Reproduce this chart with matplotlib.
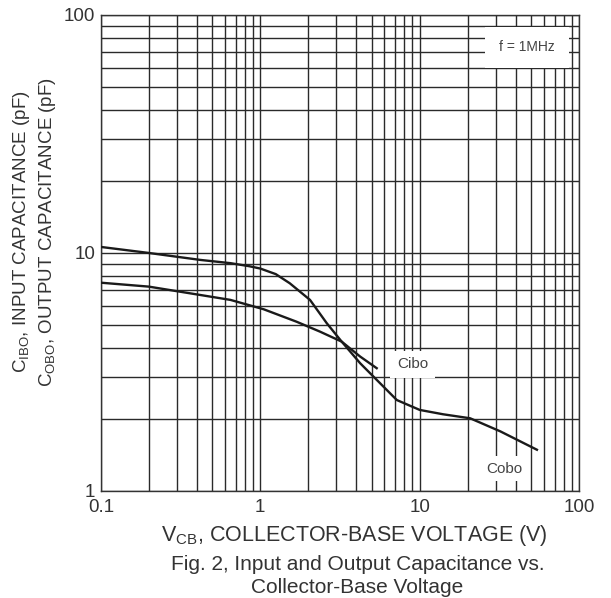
import matplotlib
matplotlib.use('Agg')
from matplotlib import pyplot as plt
from matplotlib.ticker import LogLocator, NullFormatter, FixedLocator, FixedFormatter

plt.rcParams['font.family'] = ['Liberation Sans', 'DejaVu Sans']

# values (V, pF)
cibo_v = [0.1, 0.2, 0.42, 0.65, 0.85, 1.0, 1.25, 1.53, 2.05, 2.61, 3.24, 4.23, 5.37]
cibo_c = [10.6, 10.0, 9.35, 9.06, 8.8, 8.6, 8.15, 7.46, 6.35, 5.07, 4.24, 3.67, 3.28]

cobo_v = [0.1, 0.2, 0.42, 0.65, 1.05, 1.69, 2.37, 3.24, 4.23, 5.37, 7.18, 10.0, 14.0, 20.7, 32.0, 54.3]
cobo_c = [7.5, 7.22, 6.66, 6.35, 5.8, 5.14, 4.67, 4.24, 3.44, 2.93, 2.41, 2.19, 2.1, 2.02, 1.78, 1.49]

x_ticks = [0.1, 1, 10, 100]
x_labels = ['0.1', '1', '10', '100']
y_ticks = [1, 10, 100]
y_labels = ['1', '10', '100']

fig = plt.figure(figsize=(6.11, 5.98), dpi=100)
ax = fig.add_axes([0.165, 0.179, 0.783, 0.796])

ax.set_xscale('log')
ax.set_yscale('log')
ax.set_xlim(0.1, 100)
ax.set_ylim(1, 100)

ax.xaxis.set_major_locator(FixedLocator(x_ticks))
ax.xaxis.set_major_formatter(FixedFormatter(x_labels))
ax.yaxis.set_major_locator(FixedLocator(y_ticks))
ax.yaxis.set_major_formatter(FixedFormatter(y_labels))
ax.xaxis.set_minor_locator(LogLocator(base=10, subs=range(2, 10)))
ax.yaxis.set_minor_locator(LogLocator(base=10, subs=range(2, 10)))
ax.xaxis.set_minor_formatter(NullFormatter())
ax.yaxis.set_minor_formatter(NullFormatter())

ax.grid(True, which='both', color='#2a2a2a', linewidth=1.0)
ax.tick_params(which='both', length=0, labelsize=13.5, colors='#333333')
ax.tick_params(axis='x', pad=6)
ax.tick_params(axis='y', pad=4)
for s in ax.spines.values():
    s.set_color('#333333')
    s.set_linewidth(1.0)

ax.plot(cibo_v, cibo_c, color='#1a1a1a', linewidth=1.7, zorder=3)
ax.plot(cobo_v, cobo_c, color='#1a1a1a', linewidth=1.7, zorder=3)

# labels with white boxes that break the grid
ax.text(9.0, 3.4, 'Cibo', fontsize=11, color='#444444', ha='center', va='center',
        bbox=dict(facecolor='white', edgecolor='none', pad=5), zorder=4)
ax.text(34, 1.24, 'Cobo', fontsize=11, color='#444444', ha='center', va='center',
        bbox=dict(facecolor='white', edgecolor='none', pad=4), zorder=4)
ax.text(47, 73, 'f = 1MHz', fontsize=10, color='#444444', ha='center', va='center',
        bbox=dict(facecolor='white', edgecolor='none', pad=10), zorder=4)

fig.text(0.58, 0.104, r'V$_\mathregular{CB}$, COLLECTOR-BASE VOLTAGE (V)',
         fontsize=15.5, color='#333333', ha='center', va='center')
fig.text(0.585, 0.056, 'Fig. 2, Input and Output Capacitance vs.',
         fontsize=15, color='#333333', ha='center', va='center')
fig.text(0.585, 0.017, 'Collector-Base Voltage',
         fontsize=15, color='#333333', ha='center', va='center')

fig.text(0.036, 0.612, r'C$_\mathregular{IBO}$, INPUT CAPACITANCE (pF)',
         fontsize=13.5, color='#333333', ha='center', va='center', rotation=90)
fig.text(0.078, 0.612, r'C$_\mathregular{OBO}$, OUTPUT CAPACITANCE (pF)',
         fontsize=13.5, color='#333333', ha='center', va='center', rotation=90)

fig.savefig('out.png', dpi=100)
